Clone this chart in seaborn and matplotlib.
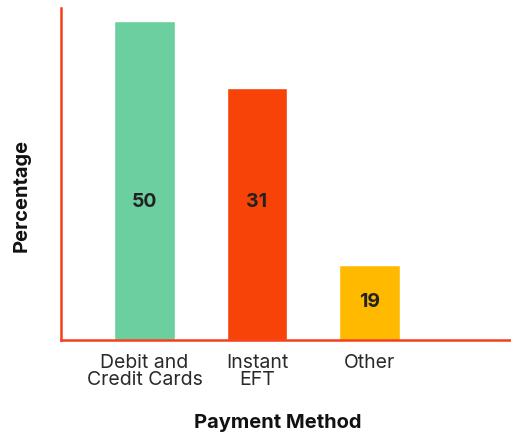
import matplotlib
matplotlib.use("Agg")
import matplotlib.pyplot as plt
import seaborn as sns
import pandas as pd

categories = ["Debit and\nCredit Cards", "Instant\nEFT", "Other"]
percent_labels = [50, 31, 19]
bar_heights = [50, 39.5, 11.75]
label_y = [21.6, 21.6, 5.95]
colors = ["#6CCF9F", "#F74208", "#FFBA00"]

sns.set_theme(style="white")
plt.rcParams["font.family"] = ["Inter", "DejaVu Sans"]

df = pd.DataFrame({"cat": categories, "h": bar_heights})

fig = plt.figure(figsize=(5.11, 4.33), dpi=100)
ax = fig.add_axes([61/511, 1 - 340/433, 450/511, 332/433])
sns.barplot(data=df, x="cat", y="h", hue="cat", palette=colors, legend=False,
            width=0.54, saturation=1, ax=ax)
ax.set_xlim(-0.742, 3.258)
ax.set_ylim(0, 52)

for i, (v, y) in enumerate(zip(percent_labels, label_y)):
    ax.text(i, y, str(v), ha="center", va="center", fontsize=14,
            fontweight="bold", color="#222222")

ax.set_yticks([])
ax.tick_params(axis="x", length=0, pad=10, labelsize=14, labelcolor="#2a2a2a")
for lbl in ax.get_xticklabels():
    lbl.set_linespacing(0.95)
for s in ["top", "right"]:
    ax.spines[s].set_visible(False)
for s in ["left", "bottom"]:
    ax.spines[s].set_color("#F4401A")
    ax.spines[s].set_linewidth(1.8)

ax.set_xlabel("")
ax.set_ylabel("")
fig.text(278/511, 1 - 423/433, "Payment Method", ha="center", va="center",
         fontsize=14.5, fontweight="bold", color="#111111")
fig.text(22/511, 1 - 195/433, "Percentage", ha="center", va="center", rotation=90,
         fontsize=14.5, fontweight="bold", color="#111111")

fig.savefig("out.png", dpi=100)
